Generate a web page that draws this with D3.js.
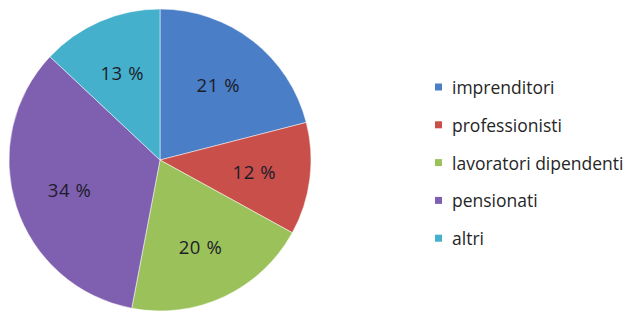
<!DOCTYPE html>
<html>
<head>
<meta charset="utf-8">
<script src="https://cdn.jsdelivr.net/npm/d3@7"></script>
<style>
  html, body { margin: 0; padding: 0; background: #fff; }
  svg { display: block; }
</style>
</head>
<body>
<svg id="chart" width="631" height="312"></svg>
<script>
const categories = ["imprenditori", "professionisti", "lavoratori dipendenti", "pensionati", "altri"];
const values = [21, 12, 20, 34, 13];
const labels = ["21 %", "12 %", "20 %", "34 %", "13 %"];
const colors = ["#4A7EC6", "#C94F4B", "#9BC25A", "#7F60B0", "#45B0CC"];

const svg = d3.select("#chart");
const cx = 160, cy = 160, r = 151;

const data = categories.map((c, i) => ({ name: c, value: values[i], label: labels[i], color: colors[i] }));
const pie = d3.pie().value(d => d.value).sort(null);
const arcs = pie(data);
const arc = d3.arc().innerRadius(0).outerRadius(r);
const labelArc = d3.arc().innerRadius(r * 0.63).outerRadius(r * 0.63);

const g = svg.append("g").attr("transform", `translate(${cx},${cy})`);
g.selectAll("path").data(arcs).join("path")
  .attr("d", arc)
  .attr("fill", d => d.data.color)
  .attr("stroke", "#ffffff")
  .attr("stroke-width", 0.5);

g.selectAll("text").data(arcs).join("text")
  .attr("transform", d => `translate(${labelArc.centroid(d)})`)
  .attr("text-anchor", "middle")
  .attr("dominant-baseline", "central")
  .attr("font-family", "Open Sans, sans-serif")
  .attr("font-size", 18.5)
  .attr("letter-spacing", 0.6)
  .attr("fill", "#1c1c2a")
  .text(d => d.data.label);

const legend = svg.append("g").attr("transform", "translate(435,87)");
const rowH = 37.8;
const items = legend.selectAll("g").data(data).join("g")
  .attr("transform", (d, i) => `translate(0,${i * rowH})`);
items.append("rect")
  .attr("x", 0).attr("y", -3.5).attr("width", 7).attr("height", 7)
  .attr("fill", d => d.color);
items.append("text")
  .attr("x", 17).attr("y", 0)
  .attr("dominant-baseline", "central")
  .attr("font-family", "Open Sans, sans-serif")
  .attr("font-size", 17.5)
  .attr("fill", "#262626")
  .text(d => d.name);
</script>
</body>
</html>
